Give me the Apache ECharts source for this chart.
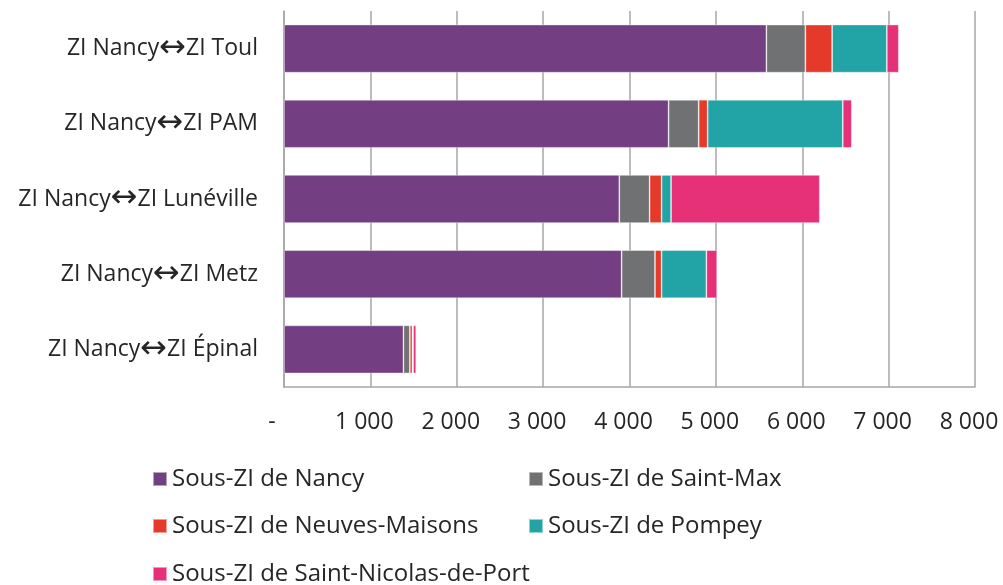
<!DOCTYPE html>
<html>
<head>
<meta charset="utf-8">
<script src="https://cdn.jsdelivr.net/npm/echarts@6/dist/echarts.min.js"></script>
<style>
  html, body { margin: 0; padding: 0; background: #fff; }
  #chart { width: 1003px; height: 585px; }
</style>
</head>
<body>
<div id="chart"></div>
<script>
const categories = ['ZI Nancy↔ZI Toul', 'ZI Nancy↔ZI PAM', 'ZI Nancy↔ZI Lunéville', 'ZI Nancy↔ZI Metz', 'ZI Nancy↔ZI Épinal']
const seriesNames = ['Sous-ZI de Nancy', 'Sous-ZI de Saint-Max', 'Sous-ZI de Neuves-Maisons', 'Sous-ZI de Pompey', 'Sous-ZI de Saint-Nicolas-de-Port']
const nancy = [5585, 4453, 3882, 3909, 1383]
const saintMax = [451, 348, 351, 386, 74]
const neuvesMaisons = [310, 104, 139, 77, 30]
const pompey = [633, 1564, 109, 518, 8]
const saintNicolas = [139, 105, 1722, 124, 35]
const colors = ['#743f82', '#707173', '#e53a2a', '#22a3a5', '#e63077']

const font = '"Open Sans", "DejaVu Sans", sans-serif'
const textColor = '#262626'
const values = [nancy, saintMax, neuvesMaisons, pompey, saintNicolas]

const chart = echarts.init(document.getElementById('chart'))

// one legend per item so they sit in two columns like the original
const legendPos = [[152, 467], [528, 467], [152, 514], [528, 514], [152, 562]]
const legends = seriesNames.map((name, i) => ({
  data: [name],
  left: legendPos[i][0],
  top: legendPos[i][1],
  padding: 0,
  itemWidth: 14,
  itemHeight: 14,
  itemGap: 5,
  icon: 'rect',
  textStyle: { fontFamily: font, fontSize: 24, color: textColor },
  selectedMode: false
}))

// tick labels sit a little left of their tick (accounting format)
const tickRich = {
  n: { fontFamily: font, fontSize: 23, color: textColor, padding: [0, 12, 0, 0] },
  d: { fontFamily: font, fontSize: 23, color: textColor, padding: [0, 24, 0, 0] }
}

chart.setOption({
  animation: false,
  color: colors,
  grid: { left: 284, right: 28, top: 11, bottom: 198, outerBoundsMode: 'none' },
  legend: legends,
  xAxis: {
    type: 'value',
    min: 0,
    max: 8000,
    interval: 1000,
    axisLine: { show: true, lineStyle: { color: '#a6a6a6', width: 1.5 } },
    axisTick: { show: false },
    splitLine: { show: true, lineStyle: { color: '#a6a6a6', width: 1.5 } },
    axisLabel: {
      margin: 24,
      fontFamily: font,
      fontSize: 23,
      color: textColor,
      formatter: v => v === 0 ? '{d|-}' : '{n|' + String(v).replace(/\B(?=(\d{3})+(?!\d))/g, ' ') + '}',
      rich: tickRich
    }
  },
  yAxis: {
    type: 'category',
    inverse: true,
    data: categories,
    axisLine: { show: true, lineStyle: { color: '#a6a6a6', width: 1.5 } },
    axisTick: { show: false },
    axisLabel: {
      margin: 26,
      fontFamily: font,
      fontSize: 23,
      color: textColor,
      // the arrow is drawn wider, as in the original
      formatter: v => v.replace('↔', '{a|↔}'),
      rich: { a: { fontFamily: '"DejaVu Sans"', fontSize: 32, lineHeight: 28, color: textColor } }
    }
  },
  series: seriesNames.map((name, i) => ({
    name,
    type: 'bar',
    stack: 'total',
    barCategoryGap: '36%',
    data: values[i],
    itemStyle: { color: colors[i], borderColor: 'rgba(255,255,255,0.5)', borderWidth: 0.8 }
  }))
})
</script>
</body>
</html>
